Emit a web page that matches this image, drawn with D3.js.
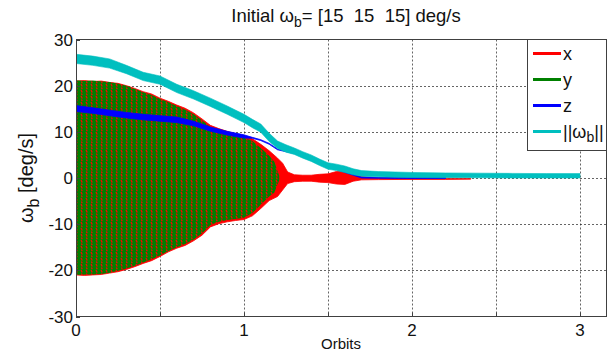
<!DOCTYPE html>
<html>
<head>
<meta charset="utf-8">
<script src="https://cdn.jsdelivr.net/npm/d3@7"></script>
<style>
  html, body { margin: 0; padding: 0; background: #fff; }
  svg { display: block; font-family: "Liberation Sans", Arial, sans-serif; }
  text { white-space: pre; }
</style>
</head>
<body>
<div id="chart"></div>
<script>
// Envelopes (orbits vs deg/s). x/y oscillate too densely to resolve single cycles.
const xOrbits = [0, 0.05, 0.1, 0.15, 0.2, 0.25, 0.3, 0.35, 0.4, 0.45, 0.5, 0.55, 0.6, 0.65, 0.7, 0.75, 0.8, 0.85, 0.9, 0.95, 1.0, 1.05, 1.1, 1.15, 1.2, 1.23, 1.26, 1.3, 1.35, 1.4, 1.45, 1.5, 1.55, 1.6, 1.65, 1.7, 1.8, 2.0, 2.2, 2.35];
const xUpper = [21.0, 21.1, 20.9, 21.0, 20.7, 20.5, 20.0, 19.4, 18.7, 18.2, 17.3, 16.6, 15.8, 15.1, 14.1, 12.8, 11.4, 10.7, 10.1, 9.6, 9.1, 8.5, 7.3, 5.9, 4.3, 3.2, 1.3, 0.7, 0.6, 0.6, 0.8, 0.9, 1.4, 1.6, 0.8, 0.3, 0.0, -0.05, -0.05, -0.1];
const xLower = [-21.0, -21.1, -21.0, -20.9, -20.6, -20.3, -19.8, -19.2, -18.5, -17.9, -17.0, -16.0, -15.2, -14.6, -13.6, -12.4, -10.6, -9.9, -9.5, -9.2, -9.0, -8.2, -6.6, -4.9, -4.0, -2.6, -1.2, -0.8, -0.7, -0.7, -0.9, -1.0, -1.3, -1.4, -0.7, -0.4, -0.35, -0.3, -0.3, -0.25];

const yOrbits = [0, 0.05, 0.1, 0.15, 0.2, 0.25, 0.3, 0.35, 0.4, 0.45, 0.5, 0.55, 0.6, 0.65, 0.7, 0.75, 0.8, 0.85, 0.9, 0.95, 1.0, 1.05, 1.1, 1.15, 1.18, 1.21];
const yUpper = [21.2, 21.0, 21.1, 20.9, 20.8, 20.4, 20.0, 19.3, 18.6, 18.0, 17.1, 16.4, 15.6, 14.8, 13.8, 12.5, 11.0, 10.3, 9.7, 9.2, 8.7, 8.0, 6.5, 4.8, 3.6, 0.5];
const yLower = [-21.0, -20.9, -20.9, -20.8, -20.5, -20.1, -19.6, -19.0, -18.3, -17.6, -16.8, -15.8, -15.0, -14.3, -13.3, -12.0, -10.2, -9.5, -9.1, -8.9, -8.6, -7.6, -5.8, -4.0, -3.2, -0.5];

const zOrbits = [0, 0.1, 0.2, 0.3, 0.4, 0.5, 0.6, 0.7, 0.8, 0.9, 1.0, 1.05, 1.1, 1.15, 1.2, 1.25, 1.3, 1.4, 1.5, 1.6, 1.7, 1.8, 2.0, 2.2];
const zUpper = [15.7, 15.2, 14.7, 14.2, 13.8, 13.5, 13.2, 12.3, 11.05, 10.1, 9.35, 8.8, 8.3, 7.5, 6.3, 5.9, 5.5, 4.2, 2.7, 1.4, 0.2, 0.15, 0.1, 0.1];
const zLower = [14.4, 14.0, 13.5, 13.0, 12.6, 12.3, 12.0, 11.3, 10.15, 9.3, 8.65, 8.6, 8.1, 7.3, 6.1, 5.7, 5.3, 4.0, 2.5, 1.2, 0.0, -0.05, -0.1, -0.1];

const normOrbits = [0, 0.1, 0.2, 0.3, 0.4, 0.5, 0.6, 0.7, 0.8, 0.9, 1.0, 1.05, 1.1, 1.15, 1.2, 1.25, 1.3, 1.35, 1.4, 1.45, 1.5, 1.55, 1.6, 1.65, 1.7, 1.8, 1.9, 2.0, 2.2, 2.4, 2.6, 2.8, 3.0];
const normUpper = [26.8, 26.4, 25.8, 24.4, 22.9, 22.1, 20.3, 18.9, 17.3, 15.6, 13.8, 12.7, 11.7, 9.7, 8.0, 7.2, 6.5, 5.7, 5.0, 4.1, 3.3, 3.0, 2.6, 2.0, 1.6, 1.4, 1.3, 1.2, 1.1, 1.05, 1.0, 0.95, 0.95];
const normLower = [24.8, 24.4, 23.8, 22.6, 21.1, 20.3, 18.5, 17.1, 15.5, 13.8, 12.0, 10.9, 9.9, 7.9, 6.4, 5.6, 5.1, 4.3, 3.6, 2.7, 1.9, 1.6, 1.2, 0.7, 0.4, 0.25, 0.15, 0.1, 0.05, 0.05, 0.0, 0.0, 0.0];

const xTicks = [0, 0.5, 1, 1.5, 2, 2.5, 3];
const xTickLabels = ['0', '', '1', '', '2', '', '3'];
const yTicks = [-30, -20, -10, 0, 10, 20, 30];

const legendItems = [
  { key: 'x', color: '#ff0000' },
  { key: 'y', color: '#008000' },
  { key: 'z', color: '#0000ff' },
  { key: 'norm', color: '#00bfbf' },
];

// Layout (px) matched to the 607x351 reference
const width = 607;
const height = 351;
const plot = { left: 76, right: 606, top: 39.5, bottom: 316.5 };
const fontFamily = '"Liberation Sans", Arial, sans-serif';

const x = d3.scaleLinear().domain([0, 3.155]).range([plot.left, plot.right]);
const y = d3.scaleLinear().domain([-30, 30]).range([plot.bottom, plot.top]);

const svg = d3.select('#chart')
  .append('svg')
  .attr('width', width)
  .attr('height', height)
  .attr('viewBox', `0 0 ${width} ${height}`);

/* Pattern: green band with red zigzags showing through (dense x/y overlap) */
const defs = svg.append('defs');
const pat = defs.append('pattern')
  .attr('id', 'xyMix')
  .attr('patternUnits', 'userSpaceOnUse')
  .attr('width', 5)
  .attr('height', 6);
pat.append('rect').attr('width', 5).attr('height', 6).attr('fill', '#008000');
pat.append('path')
  .attr('d', 'M1,0 L2.2,2.5 M1.4,3.5 L2.2,5.2')
  .attr('stroke', '#ff0000')
  .attr('stroke-width', 1.3)
  .attr('fill', 'none');

defs.append('clipPath').attr('id', 'plotClip')
  .append('rect')
  .attr('x', plot.left).attr('y', plot.top)
  .attr('width', plot.right - plot.left).attr('height', plot.bottom - plot.top);

svg.append('rect')
  .attr('x', plot.left).attr('y', plot.top)
  .attr('width', plot.right - plot.left).attr('height', plot.bottom - plot.top)
  .attr('fill', '#fff');

/* Grid */
const grid = svg.append('g').attr('class', 'grid')
  .attr('stroke', '#222').attr('stroke-width', 0.7).attr('stroke-dasharray', '2,2');
grid.selectAll('line.gx')
  .data(xTicks.filter((d) => d > 0))
  .join('line')
  .attr('class', 'gx')
  .attr('x1', (d) => Math.round(x(d)) + 0.5).attr('x2', (d) => Math.round(x(d)) + 0.5)
  .attr('y1', plot.top).attr('y2', plot.bottom);
grid.selectAll('line.gy')
  .data(yTicks.filter((d) => d > -30 && d < 30))
  .join('line')
  .attr('class', 'gy')
  .attr('x1', plot.left).attr('x2', plot.right)
  .attr('y1', (d) => Math.round(y(d)) + 0.5).attr('y2', (d) => Math.round(y(d)) + 0.5);

/* Series */
const series = svg.append('g').attr('clip-path', 'url(#plotClip)');

const band = (orbits, upper, lower) =>
  d3.area()
    .x((i) => x(orbits[i]))
    .y0((i) => y(lower[i]))
    .y1((i) => y(upper[i]))
    .curve(d3.curveLinear)(d3.range(orbits.length));

series.append('path')
  .attr('d', band(xOrbits, xUpper, xLower))
  .attr('fill', '#ff0000')
  .attr('stroke', '#ff0000')
  .attr('stroke-width', 0.8);

series.append('path')
  .attr('d', band(yOrbits, yUpper, yLower))
  .attr('fill', 'url(#xyMix)');

series.append('path')
  .attr('d', band(zOrbits, zUpper, zLower))
  .attr('fill', '#0000ff')
  .attr('stroke', '#0000ff')
  .attr('stroke-width', 0.8);

series.append('path')
  .attr('d', band(normOrbits, normUpper, normLower))
  .attr('fill', '#00bfbf')
  .attr('stroke', '#00bfbf')
  .attr('stroke-width', 0.6);

/* Axes box and inner ticks */
const axes = svg.append('g').attr('stroke', '#404040').attr('stroke-width', 1).attr('fill', 'none');
axes.append('rect')
  .attr('x', plot.left + 0.5).attr('y', plot.top)
  .attr('width', plot.right - plot.left).attr('height', plot.bottom - plot.top);

axes.selectAll('line.tx')
  .data(xTicks)
  .join('line')
  .attr('class', 'tx')
  .attr('x1', (d) => Math.round(x(d)) + 0.5).attr('x2', (d) => Math.round(x(d)) + 0.5)
  .attr('y1', plot.bottom).attr('y2', plot.bottom - 4);

axes.selectAll('line.ty')
  .data(yTicks)
  .join('line')
  .attr('class', 'ty')
  .attr('x1', plot.left).attr('x2', plot.left + 4)
  .attr('y1', (d) => Math.round(y(d)) + 0.5).attr('y2', (d) => Math.round(y(d)) + 0.5);

/* Tick labels */
svg.append('g')
  .selectAll('text')
  .data(yTicks)
  .join('text')
  .attr('x', plot.left - 3)
  .attr('y', (d) => y(d) + 6)
  .attr('text-anchor', 'end')
  .attr('font-family', fontFamily)
  .attr('font-size', 17)
  .attr('fill', '#111')
  .text((d) => d);

svg.append('g')
  .selectAll('text')
  .data(xTicks)
  .join('text')
  .attr('x', (d) => x(d))
  .attr('y', plot.bottom + 19)
  .attr('text-anchor', 'middle')
  .attr('font-family', fontFamily)
  .attr('font-size', 17)
  .attr('fill', '#111')
  .text((d, i) => xTickLabels[i]);

/* Axis labels and title */
svg.append('text')
  .attr('x', (plot.left + plot.right) / 2)
  .attr('y', plot.bottom + 32)
  .attr('text-anchor', 'middle')
  .attr('font-family', fontFamily)
  .attr('font-size', 15)
  .attr('fill', '#111')
  .text('Orbits');

const title = svg.append('text')
  .attr('x', 346)
  .attr('y', 22)
  .attr('text-anchor', 'middle')
  .attr('font-family', fontFamily)
  .attr('font-size', 18.5)
  .attr('fill', '#111');
title.append('tspan').text('Initial ω');
title.append('tspan').attr('dy', 5).attr('font-size', 14).text('b');
title.append('tspan').attr('dy', -5).text('= [15  15  15] deg/s');

const yLabel = svg.append('text')
  .attr('transform', `translate(33, ${(plot.top + plot.bottom) / 2}) rotate(-90)`)
  .attr('text-anchor', 'middle')
  .attr('font-family', fontFamily)
  .attr('font-size', 20)
  .attr('fill', '#111');
yLabel.append('tspan').text('ω');
yLabel.append('tspan').attr('dy', 6).attr('font-size', 16).text('b');
yLabel.append('tspan').attr('dy', -6).text(' [deg/s]');

/* Legend */
const legend = svg.append('g').attr('transform', 'translate(527, 39.5)');
legend.append('rect')
  .attr('x', 0.5).attr('y', 0)
  .attr('width', 79).attr('height', 111)
  .attr('fill', '#fff')
  .attr('stroke', '#404040')
  .attr('stroke-width', 1);

const legendRows = legend.selectAll('g.legend-item')
  .data(legendItems)
  .join('g')
  .attr('class', 'legend-item')
  .attr('transform', (d, i) => `translate(0, ${14 + i * 26})`);

legendRows.append('line')
  .attr('x1', 6).attr('x2', 34)
  .attr('y1', 0).attr('y2', 0)
  .attr('stroke', (d) => d.color)
  .attr('stroke-width', 3);

legendRows.each(function (d) {
  const t = d3.select(this).append('text')
    .attr('x', 36)
    .attr('y', 6)
    .attr('font-family', fontFamily)
    .attr('font-size', 18)
    .attr('fill', '#111');
  if (d.key === 'norm') {
    t.append('tspan').text('||ω');
    t.append('tspan').attr('dy', 4).attr('font-size', 14).text('b');
    t.append('tspan').attr('dy', -4).text('||');
  } else {
    t.text(d.key);
  }
});
</script>
</body>
</html>
